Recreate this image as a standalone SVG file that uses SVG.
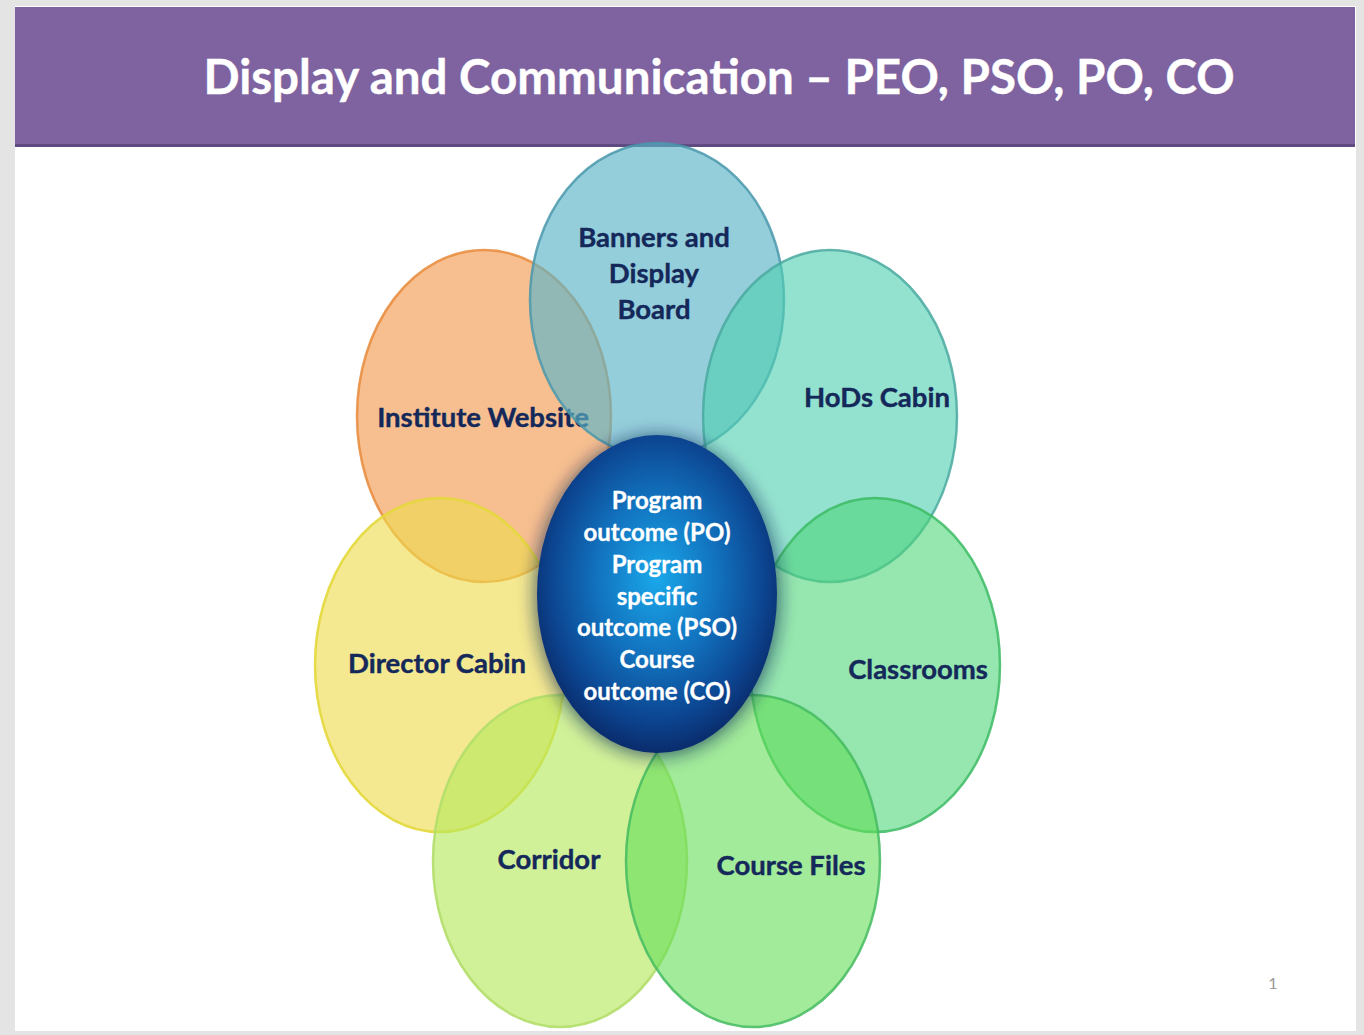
<svg xmlns="http://www.w3.org/2000/svg" width="1364" height="1035" viewBox="0 0 1364 1035">
  <style>
    .petal { stroke-width: 2.5; }
    .lbl { font-family: Lato, "Open Sans", "Liberation Sans", sans-serif; font-weight: bold; font-size: 27.5px; fill: #14285a; stroke: #14285a; stroke-width: 0.4; text-anchor: middle; }
    .core { font-family: Lato, "Open Sans", "Liberation Sans", sans-serif; font-weight: bold; font-size: 24px; fill: #ffffff; stroke: #ffffff; stroke-width: 0.3; text-anchor: middle; }
    .title { font-family: Lato, "Open Sans", "Liberation Sans", sans-serif; font-weight: bold; font-size: 47.5px; fill: #ffffff; stroke: #ffffff; stroke-width: 0.4; }
  </style>
  <defs>
    <radialGradient id="coreFill" cx="50%" cy="45%" r="55%">
      <stop offset="0" stop-color="#1aa8ea"/>
      <stop offset="0.45" stop-color="#1273bf"/>
      <stop offset="0.8" stop-color="#0c4692"/>
      <stop offset="1" stop-color="#0a2c6c"/>
    </radialGradient>
    <filter id="coreShadow" x="-30%" y="-30%" width="160%" height="160%">
      <feGaussianBlur stdDeviation="8"/>
    </filter>
  </defs>

  <!-- slide background -->
  <rect x="0" y="0" width="1364" height="1035" fill="#e4e4e4"/>
  <rect x="15" y="6" width="1341" height="1025" fill="#ffffff"/>

  <!-- header bar -->
  <g id="header">
    <rect x="15" y="7" width="1340" height="139" fill="#7e63a0"/>
    <rect x="15" y="144" width="1340" height="3" fill="#5f4a82"/>
    <text class="title" x="719" y="94" text-anchor="middle">Display and Communication – PEO, PSO, PO, CO</text>
  </g>

  <!-- petals -->
  <g id="petal-institute">
    <ellipse class="petal" cx="484" cy="416" rx="127" ry="166" fill="#f39c55" fill-opacity="0.65" stroke="#e8893a" stroke-opacity="0.85"/>
    <text class="lbl" x="483" y="427">Institute Website</text>
  </g>
  <g id="petal-banners">
    <ellipse class="petal" cx="657" cy="300" rx="127" ry="157" fill="#5ab3c8" fill-opacity="0.65" stroke="#4a98ab" stroke-opacity="0.85"/>
    <text class="lbl" x="654" y="247">Banners and</text>
    <text class="lbl" x="654" y="283">Display</text>
    <text class="lbl" x="654" y="319">Board</text>
  </g>
  <g id="petal-hods">
    <ellipse class="petal" cx="830" cy="416" rx="127" ry="166" fill="#50d0b2" fill-opacity="0.62" stroke="#4aa9a0" stroke-opacity="0.85"/>
    <text class="lbl" x="877" y="407">HoDs Cabin</text>
  </g>
  <g id="petal-director">
    <ellipse class="petal" cx="440" cy="665" rx="125" ry="167" fill="#eedc4e" fill-opacity="0.62" stroke="#e3d83a" stroke-opacity="0.9"/>
    <text class="lbl" x="437" y="673">Director Cabin</text>
  </g>
  <g id="petal-classrooms">
    <ellipse class="petal" cx="875" cy="665" rx="125" ry="167" fill="#4fd57a" fill-opacity="0.6" stroke="#3cbb64" stroke-opacity="0.85"/>
    <text class="lbl" x="918" y="679">Classrooms</text>
  </g>
  <g id="petal-corridor">
    <ellipse class="petal" cx="560" cy="861" rx="127" ry="166" fill="#b5e85a" fill-opacity="0.62" stroke="#b2de6a" stroke-opacity="0.9"/>
    <text class="lbl" x="549" y="869">Corridor</text>
  </g>
  <g id="petal-coursefiles">
    <ellipse class="petal" cx="753" cy="861" rx="127" ry="166" fill="#62dd56" fill-opacity="0.6" stroke="#45bb60" stroke-opacity="0.85"/>
    <text class="lbl" x="791" y="875">Course Files</text>
  </g>

  <!-- centre -->
  <g id="centre">
    <ellipse cx="657" cy="596" rx="124" ry="162" fill="#0a2350" fill-opacity="0.55" filter="url(#coreShadow)"/>
    <ellipse cx="657" cy="594" rx="120" ry="159" fill="url(#coreFill)"/>
    <text class="core" x="657" y="509">Program</text>
    <text class="core" x="657" y="541">outcome (PO)</text>
    <text class="core" x="657" y="573">Program</text>
    <text class="core" x="657" y="605">specific</text>
    <text class="core" x="657" y="636">outcome (PSO)</text>
    <text class="core" x="657" y="668">Course</text>
    <text class="core" x="657" y="700">outcome (CO)</text>
  </g>

  <!-- page number -->
  <text x="1273" y="989" font-family="Lato, 'Liberation Sans', sans-serif" font-size="16" fill="#9a9a9a" text-anchor="middle">1</text>
</svg>
